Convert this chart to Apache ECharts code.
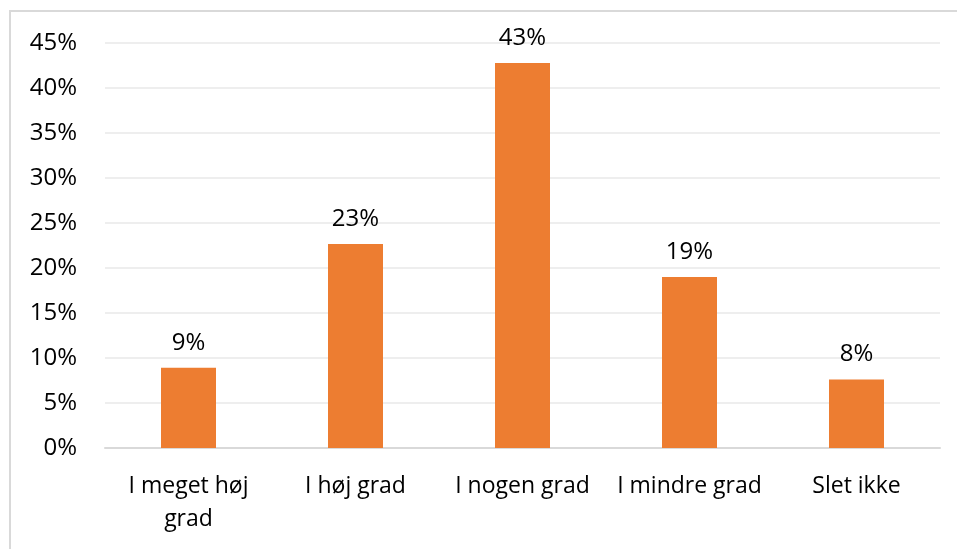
<!DOCTYPE html>
<html><head><meta charset="utf-8">
<script src="https://cdn.jsdelivr.net/npm/echarts@6/dist/echarts.min.js"></script>
<style>html,body{margin:0;padding:0;background:#fff}#c{width:957px;height:549px}</style>
</head><body><div id="c"></div>
<script>
var categories = ['I meget høj\ngrad', 'I høj grad', 'I nogen grad', 'I mindre grad', 'Slet ikke'];
var values = [8.92, 22.67, 42.78, 19.0, 7.6];
var yTicks = {min: 0, max: 45, interval: 5};

var chart = echarts.init(document.getElementById('c'));
var font = '"Open Sans", "Liberation Sans", sans-serif';
chart.setOption({
  animation: false,
  graphic: [{type: 'rect', shape: {x: 10, y: 11, width: 960, height: 560}, style: {fill: 'none', stroke: '#d9d9d9', lineWidth: 2}, silent: true}],
  grid: {left: 105, right: 17, top: 43, bottom: 101, containLabel: false},
  xAxis: {
    type: 'category', data: categories,
    axisLine: {lineStyle: {color: '#d9d9d9', width: 2}},
    axisTick: {show: false},
    axisLabel: {color: '#000', fontSize: 23, fontFamily: font, margin: 22, lineHeight: 33, interval: 0, hideOverlap: false}
  },
  yAxis: {
    type: 'value', min: yTicks.min, max: yTicks.max, interval: yTicks.interval,
    axisLine: {show: false}, axisTick: {show: false},
    splitLine: {lineStyle: {color: '#eeeeee', width: 2}},
    axisLabel: {color: '#000', fontSize: 24, fontFamily: font, margin: 28, formatter: '{value}%'}
  },
  series: [{
    type: 'bar', data: values, barWidth: 55,
    itemStyle: {color: '#ED7D31'},
    label: {show: true, position: 'top', distance: 13, color: '#000', fontSize: 24, fontFamily: font,
      formatter: function(p){ return Math.round(p.value) + '%'; }}
  }]
});
</script></body></html>
